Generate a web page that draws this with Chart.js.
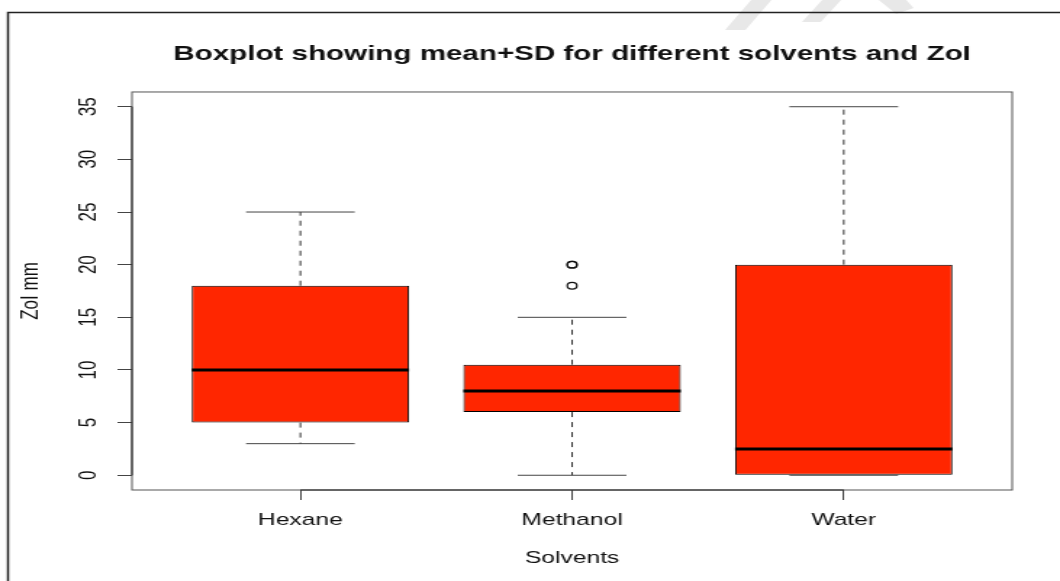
<!DOCTYPE html>
<html>
<head>
<meta charset="utf-8">
<script src="https://cdn.jsdelivr.net/npm/chart.js@4"></script>
<style>
  body { margin: 0; background: #fff; overflow: hidden; }
  /* the reference picture is stretched sideways, so the chart is drawn narrow and widened */
  #wrap { width: 731px; height: 581px; transform: scaleX(1.4501); transform-origin: 0 0; }
</style>
</head>
<body>
<div id="wrap"><canvas id="boxChart" width="731" height="581"></canvas></div>
<script>
const categories = ['Hexane', 'Methanol', 'Water'];
const lowerWhisker = [3, 0, 0];
const q1 = [5, 6, 0];
const median = [10, 8, 2.5];
const q3 = [18, 10.5, 20];
const upperWhisker = [25, 15, 35];
const outliers = [[], [18, 20, 20], []];
const yTicks = [0, 5, 10, 15, 20, 25, 30, 35];

const FONT = 'Liberation Sans, Arial, Helvetica, sans-serif';
const INK = '#111';

const boxData = categories.map((c, i) => ({ x: i, y: [q1[i], q3[i]] }));
const outlierData = [];
outliers.forEach((list, i) => list.forEach(v => outlierData.push({ x: i, y: v })));

// whiskers, caps and medians, placed with the chart's scales
const boxParts = {
  id: 'boxParts',
  afterDatasetsDraw(chart) {
    const ctx = chart.ctx;
    const xs = chart.scales.x, ys = chart.scales.y;
    const bars = chart.getDatasetMeta(0).data;
    ctx.save();
    categories.forEach((c, i) => {
      const cx = xs.getPixelForValue(i);
      const half = bars[i].width / 2;
      // dashed whiskers
      ctx.strokeStyle = '#333';
      ctx.lineWidth = 1;
      ctx.setLineDash([5, 5]);
      ctx.beginPath();
      ctx.moveTo(cx, ys.getPixelForValue(q3[i]));
      ctx.lineTo(cx, ys.getPixelForValue(upperWhisker[i]));
      ctx.moveTo(cx, ys.getPixelForValue(q1[i]));
      ctx.lineTo(cx, ys.getPixelForValue(lowerWhisker[i]));
      ctx.stroke();
      // caps
      ctx.setLineDash([]);
      ctx.strokeStyle = '#444';
      ctx.beginPath();
      [upperWhisker[i], lowerWhisker[i]].forEach(v => {
        const py = ys.getPixelForValue(v);
        ctx.moveTo(cx - half / 2, py);
        ctx.lineTo(cx + half / 2, py);
      });
      ctx.stroke();
      // median
      ctx.strokeStyle = '#000';
      ctx.lineWidth = 3;
      ctx.beginPath();
      const my = ys.getPixelForValue(median[i]);
      ctx.moveTo(cx - half, my);
      ctx.lineTo(cx + half, my);
      ctx.stroke();
    });
    ctx.restore();
  },
  afterDraw(chart) {
    const ctx = chart.ctx;
    const a = chart.chartArea;
    const xs = chart.scales.x, ys = chart.scales.y;
    ctx.save();
    // plot frame
    ctx.strokeStyle = '#555';
    ctx.lineWidth = 1;
    ctx.strokeRect(a.left, a.top, a.right - a.left, a.bottom - a.top);
    // axis lines between first and last tick
    ctx.strokeStyle = '#222';
    ctx.beginPath();
    ctx.moveTo(a.left, ys.getPixelForValue(yTicks[0]));
    ctx.lineTo(a.left, ys.getPixelForValue(yTicks[yTicks.length - 1]));
    ctx.moveTo(xs.getPixelForValue(0), a.bottom);
    ctx.lineTo(xs.getPixelForValue(categories.length - 1), a.bottom);
    ctx.stroke();
    ctx.restore();
  },
  beforeDraw(chart) {
    const ctx = chart.ctx;
    ctx.save();
    ctx.fillStyle = '#fff';
    ctx.fillRect(0, 0, chart.width, chart.height);
    // faint watermark strokes at the top
    ctx.fillStyle = '#e8e8e8';
    [[[500, 30], [514, 30], [532, 0], [518, 0]],
     [[553, 22], [566, 22], [580, 0], [567, 0]],
     [[606, 0], [625, 0], [630, 8], [618, 14]]].forEach(poly => {
      ctx.beginPath();
      poly.forEach((p, k) => k ? ctx.lineTo(p[0], p[1]) : ctx.moveTo(p[0], p[1]));
      ctx.closePath();
      ctx.fill();
    });
    // outer frame of the figure
    ctx.strokeStyle = '#222';
    ctx.lineWidth = 1.5;
    ctx.beginPath();
    ctx.moveTo(5.5, chart.height);
    ctx.lineTo(5.5, 12.5);
    ctx.lineTo(chart.width, 12.5);
    ctx.stroke();
    ctx.restore();
  }
};

new Chart(document.getElementById('boxChart'), {
  type: 'bar',
  data: {
    datasets: [{
      data: boxData,
      backgroundColor: '#ff2600',
      borderColor: '#000',
      borderWidth: 1,
      borderSkipped: false,
      barPercentage: 0.8,
      categoryPercentage: 1
    }, {
      type: 'scatter',
      data: outlierData,
      pointStyle: 'circle',
      pointRadius: 3.3,
      pointBorderWidth: 1.2,
      pointBorderColor: '#111',
      pointBackgroundColor: 'rgba(0,0,0,0)'
    }]
  },
  options: {
    responsive: false,
    animation: false,
    devicePixelRatio: 1,
    layout: { padding: { left: 0, right: 33, top: 0, bottom: 0 } },
    plugins: {
      legend: { display: false },
      tooltip: { enabled: false },
      title: {
        display: true,
        fullSize: false,
        text: 'Boxplot showing mean+SD for different solvents and ZoI',
        color: INK,
        font: { family: FONT, size: 20.4, weight: 'bold' },
        padding: { top: 42, bottom: 25.5 }
      }
    },
    scales: {
      x: {
        type: 'linear',
        min: -0.62,
        max: 2.62,
        offset: false,
        afterBuildTicks: s => { s.ticks = categories.map((c, i) => ({ value: i })); },
        afterFit: s => { s.height = 91; },
        ticks: {
          callback: v => categories[v],
          autoSkip: false,
          maxRotation: 0,
          padding: 10,
          color: INK,
          font: { family: FONT, size: 17 }
        },
        grid: { offset: false, drawOnChartArea: false, tickLength: 10, color: '#444', lineWidth: 1 },
        border: { display: false },
        title: {
          display: true,
          text: 'Solvents',
          color: INK,
          font: { family: FONT, size: 17 },
          padding: { bottom: 12 }
        }
      },
      y: {
        min: -1.4,
        max: 36.4,
        afterBuildTicks: s => { s.ticks = yTicks.map(v => ({ value: v })); },
        afterFit: s => { s.width = 91; },
        ticks: {
          minRotation: 90,
          maxRotation: 90,
          crossAlign: 'center',
          padding: 10,
          color: INK,
          font: { family: FONT, size: 17 }
        },
        grid: { drawOnChartArea: false, tickLength: 10, color: '#444', lineWidth: 1 },
        border: { display: false },
        title: {
          display: true,
          text: 'ZoI mm',
          color: INK,
          font: { family: FONT, size: 17 },
          padding: { top: 11 }
        }
      }
    }
  },
  plugins: [boxParts]
});
</script>
</body>
</html>
